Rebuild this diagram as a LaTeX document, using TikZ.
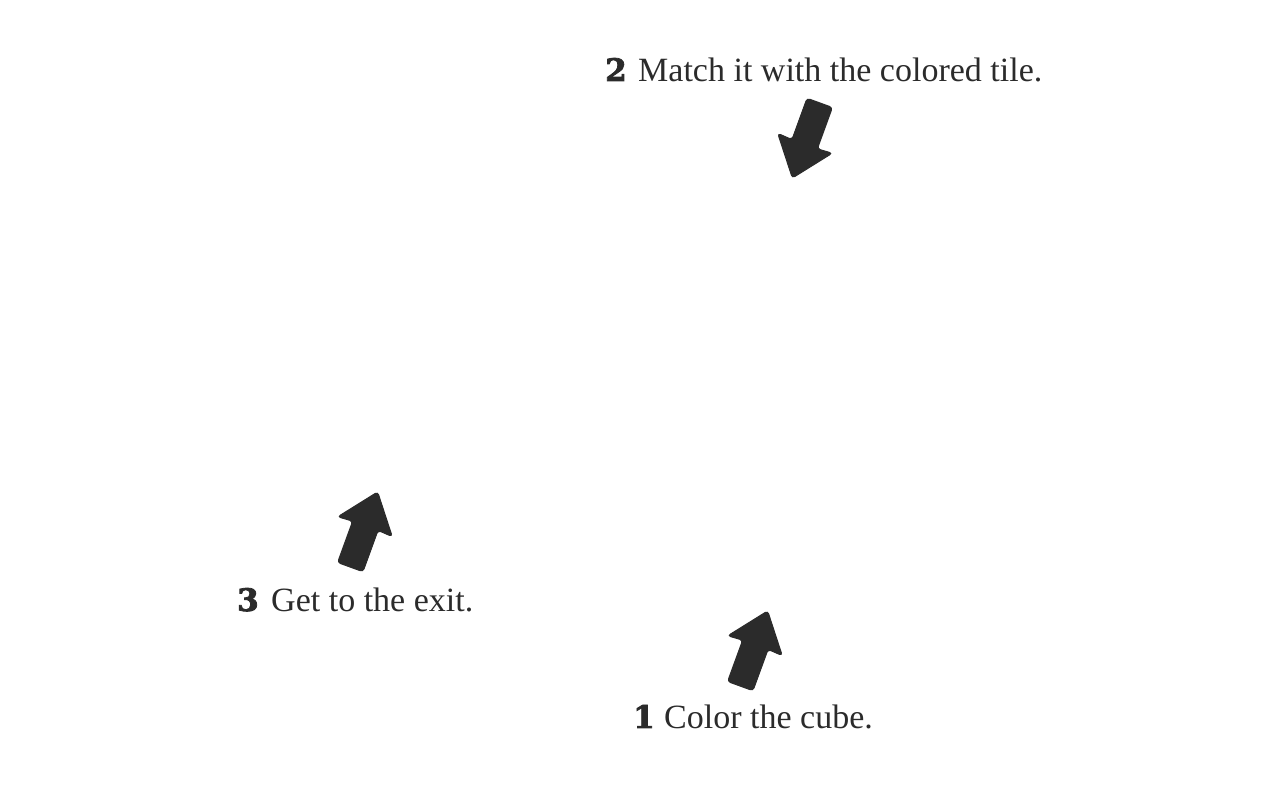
\documentclass[tikz,border=0pt]{standalone}
\usepackage{fontspec}
\setmainfont{Liberation Serif}
\newfontfamily\numfont[FakeBold=2.5]{DejaVu Serif Bold}
\definecolor{ink}{HTML}{2B2B2B}
\begin{document}
\begin{tikzpicture}[x=1pt,y=1pt,
  lbl/.style={inner sep=0pt,anchor=base west,text=ink,font=\fontsize{34}{40}\selectfont},
  num/.style={inner sep=0pt,anchor=base west,text=ink,font=\numfont\fontsize{31}{36}\selectfont},
  blockarrow/.style={fill=ink,draw=ink,line width=1pt,rounded corners=3pt}]
\useasboundingbox (0,0) rectangle (1280,800);
% arrow tips
\coordinate (t1) at (768,190);
\coordinate (t2) at (792,621);
\coordinate (t3) at (378,309);
\foreach \c/\r in {t1/-20,t2/160,t3/-20}{
  \fill[blockarrow,shift={(\c)},rotate=\r]
    (0,-1) -- (29,-38) -- (13.5,-37) -- (13.5,-81) -- (-13.5,-81) -- (-13.5,-37) -- (-29,-38) -- cycle;
}
% labels
\node[num] (n2) at (605,719) {2};
\node[lbl] (l2) at (638,718) {Match it with the colored tile.};
\node[num] (n3) at (237,189) {3};
\node[lbl] (l3) at (271,188) {Get to the exit.};
\node[num] (n1) at (633,72) {1};
\node[lbl] (l1) at (664,71) {Color the cube.};
\end{tikzpicture}
\end{document}
